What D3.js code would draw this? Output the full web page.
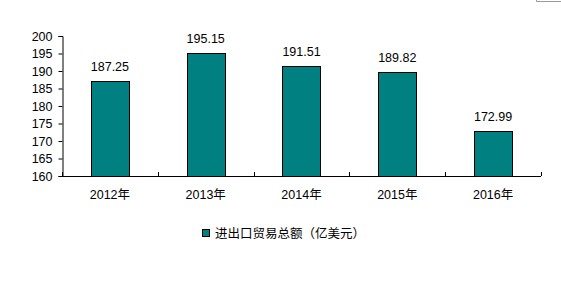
<!DOCTYPE html>
<html><head><meta charset="utf-8">
<script src="https://cdn.jsdelivr.net/npm/d3@7"></script>
<style>body{margin:0;background:#fff}svg{display:block}text{font-family:"Liberation Sans",Arial,"Noto Sans CJK SC",sans-serif;font-size:12.5px;fill:#000}</style>
</head><body><svg id="c" width="561" height="281"></svg>
<script>
const categories = ["2012年","2013年","2014年","2015年","2016年"];
const values = [187.25,195.15,191.51,189.82,172.99];
const yTicks = [160,165,170,175,180,185,190,195,200];
const seriesName = "进出口贸易总额（亿美元）";

(function(){
const svg = d3.select("#c");
const mL = 62, mR = 541, mT = 36, mB = 176;
const x = d3.scaleBand().domain(categories).range([mL, mR]).paddingInner(0.6).paddingOuter(0.3);
const xb = d3.scaleBand().domain(categories).range([mL, mR]);
const y = d3.scaleLinear().domain([160,200]).range([mB, mT]);

svg.append("path").attr("d","M536.5,0 V1.5 H561").attr("fill","none").attr("stroke","#999");

const yAxis = svg.append("g").attr("transform",`translate(${mL+0.5},0)`)
  .call(d3.axisLeft(y).tickValues(yTicks).tickSize(4).tickPadding(6));
yAxis.select(".domain").attr("stroke","#000");
yAxis.selectAll("line").attr("stroke","#000");
yAxis.attr("font-family",null).attr("font-size",null);

svg.selectAll("rect.bar").data(values).enter().append("rect")
  .attr("class","bar")
  .attr("x",(d,i)=>Math.round(x(categories[i]))+0.5)
  .attr("width",Math.round(x.bandwidth()))
  .attr("y",d=>Math.round(y(d))+0.5)
  .attr("height",d=>mB - Math.round(y(d)))
  .attr("fill","#008080").attr("stroke","#000").attr("stroke-width",1);

svg.selectAll("text.lbl").data(values).enter().append("text")
  .attr("class","lbl")
  .attr("x",(d,i)=>x(categories[i])+x.bandwidth()/2)
  .attr("y",d=>y(d)-10)
  .attr("text-anchor","middle")
  .text(d=>d.toFixed(2));

const xg = svg.append("g");
xg.append("line").attr("x1",mL).attr("x2",mR).attr("y1",mB+0.5).attr("y2",mB+0.5).attr("stroke","#000");
const edges = categories.map(c=>xb(c)).concat([mR]);
xg.selectAll("line.t").data(edges).enter().append("line").attr("class","t")
  .attr("x1",d=>Math.round(d)+0.5).attr("x2",d=>Math.round(d)+0.5)
  .attr("y1",mB).attr("y2",mB-4).attr("stroke","#000");
xg.selectAll("text").data(categories).enter().append("text")
  .attr("x",d=>xb(d)+xb.bandwidth()/2).attr("y",mB+23)
  .attr("text-anchor","middle").text(d=>d);

const lg = svg.append("g");
lg.append("rect").attr("x",202.5).attr("y",229.5).attr("width",7).attr("height",7)
  .attr("fill","#008080").attr("stroke","#000");
lg.append("text").attr("x",215).attr("y",237.5).text(seriesName);
})();
</script></body></html>
